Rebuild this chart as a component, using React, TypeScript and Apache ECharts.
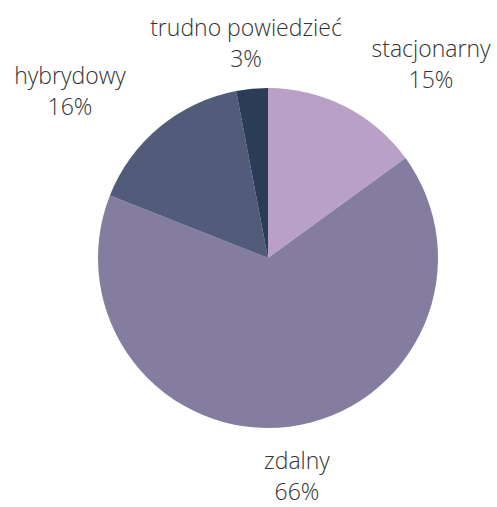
import React, { useEffect, useRef } from "react";
import * as echarts from "echarts";

const categories = ["stacjonarny", "zdalny", "hybrydowy", "trudno powiedzieć"];
const values = [15, 66, 16, 3];
const colors = ["#B9A0C7", "#847DA0", "#525B7A", "#2A3C56"];
// label block centres (layout only)
const labelPos = [
  [431, 63],
  [297, 475],
  [70, 90],
  [246, 42],
];

export default function App() {
  const ref = useRef<HTMLDivElement>(null);
  useEffect(() => {
    if (!ref.current) return;
    const chart = echarts.init(ref.current, undefined, { renderer: "svg" });
    chart.setOption({
      animation: false,
      backgroundColor: "#ffffff",
      series: [
        {
          type: "pie",
          center: [268, 258],
          radius: 170,
          startAngle: 90,
          clockwise: true,
          avoidLabelOverlap: false,
          data: categories.map((c, i) => ({
            name: c,
            value: values[i],
            itemStyle: { color: colors[i] },
          })),
          label: {
            show: true,
            position: "outside",
            formatter: "{b}\n{d}%",
            fontFamily: "Open Sans",
            fontWeight: 300,
            fontSize: 23,
            lineHeight: 31,
            color: "#333333",
            align: "center",
          },
          labelLine: { show: false },
          labelLayout: (params: any) => {
            const p = labelPos[params.dataIndex];
            return { x: p[0], y: p[1], align: "center", verticalAlign: "middle" };
          },
          emphasis: { disabled: true },
        },
      ],
    });
    return () => chart.dispose();
  }, []);
  return (
    <div
      ref={ref}
      style={{ position: "fixed", left: 0, top: 0, width: 497, height: 507 }}
    />
  );
}
